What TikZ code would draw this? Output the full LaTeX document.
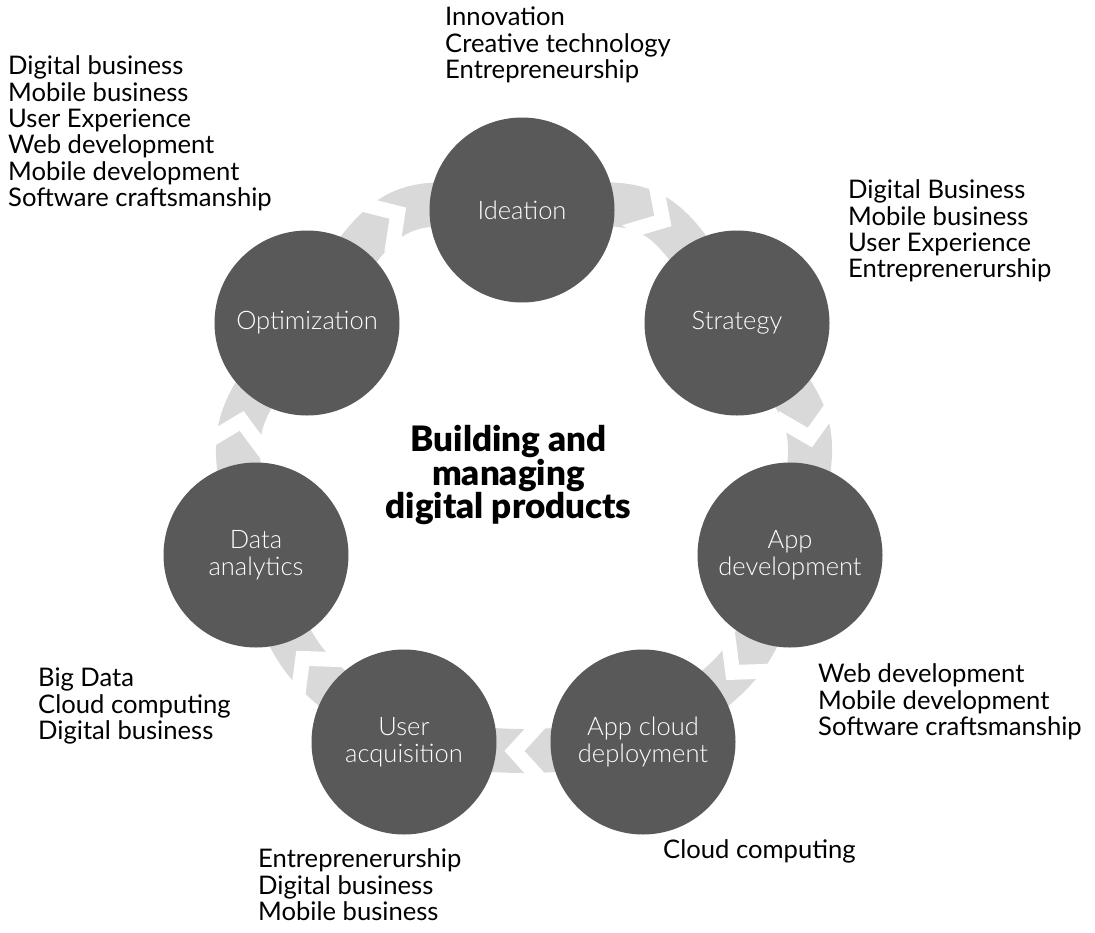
\documentclass[tikz,border=0pt]{standalone}
\usepackage{fontspec}
\setmainfont{Lato}
\newfontfamily\titlefont{Lato Black}
\newfontfamily\stagefont{Lato Light}
\usetikzlibrary{decorations.markings,backgrounds}
\definecolor{disc}{HTML}{595959}
\definecolor{band}{HTML}{D9D9D9}
\tikzset{
 stage/.style={circle, fill=disc, minimum size=185pt, inner sep=0pt, text=white, align=center, font=\stagefont\fontsize{25.5}{27}\selectfont},
 topics/.style={anchor=west, align=left, inner sep=0pt, font=\fontsize{25.6}{26.4}\selectfont},
 chevgap/.style={postaction={decorate, decoration={markings, mark=at position 0.5 with {\fill[white] (-1,0) -- (-23.7,25) -- (-3.7,25) -- (19,0) -- (-3.7,-25) -- (-23.7,-25) -- cycle;}}}},
 flow/.style={draw=band, line width=44pt, chevgap}
}
\begin{document}
\begin{tikzpicture}[x=1pt,y=-1pt]
\useasboundingbox (0,0) rectangle (1095,932);
% stages
\node[stage] (ide) at (522,210) {Ideation};
\node[stage] (str) at (737,323) {Strategy};
\node[stage] (dev) at (790,555) {App\\development};
\node[stage] (dep) at (643,742) {App cloud\\deployment};
\node[stage] (acq) at (404,742) {User\\acquisition};
\node[stage] (dat) at (256,555) {Data\\analytics};
\node[stage] (opt) at (307,323) {Optimization};
% connectors
\begin{scope}[on background layer]
\path[flow] (ide.center) .. controls (658.5,196.5) .. (str.center);
\path[flow] (str.center) .. controls (822.5,424) .. (dev.center);
\path[flow] (dev.center) .. controls (750.5,665.5) .. (dep.center);
\path[flow] (dep.center) .. controls (524.5,754) .. (acq.center);
\path[flow] (acq.center) .. controls (297,665.5) .. (dat.center);
\path[flow] (dat.center) .. controls (226.5,424) .. (opt.center);
\path[flow] (opt.center) .. controls (391.5,196.5) .. (ide.center);
\end{scope}
% title
\node[align=center, inner sep=0pt, font=\titlefont\fontsize{35}{32}\selectfont] (title) at (508.5,475) {Building and\\managing\\digital products};
% topic lists
\node[topics] (t1) at (445,45) {Innovation\\Creative technology\\Entrepreneurship};
\node[topics] (t2) at (8,133.5) {Digital business\\Mobile business\\User Experience\\Web development\\Mobile development\\Software craftsmanship};
\node[topics] (t3) at (848,231) {Digital Business\\Mobile business\\User Experience\\Entreprenerurship};
\node[topics] (t4) at (818,702) {Web development\\Mobile development\\Software craftsmanship};
\node[topics] (t5) at (663,851) {Cloud computing};
\node[topics] (t6) at (258,885) {Entreprenerurship\\Digital business\\Mobile business};
\node[topics] (t7) at (38,706) {Big Data\\Cloud computing\\Digital business};
\end{tikzpicture}
\end{document}
